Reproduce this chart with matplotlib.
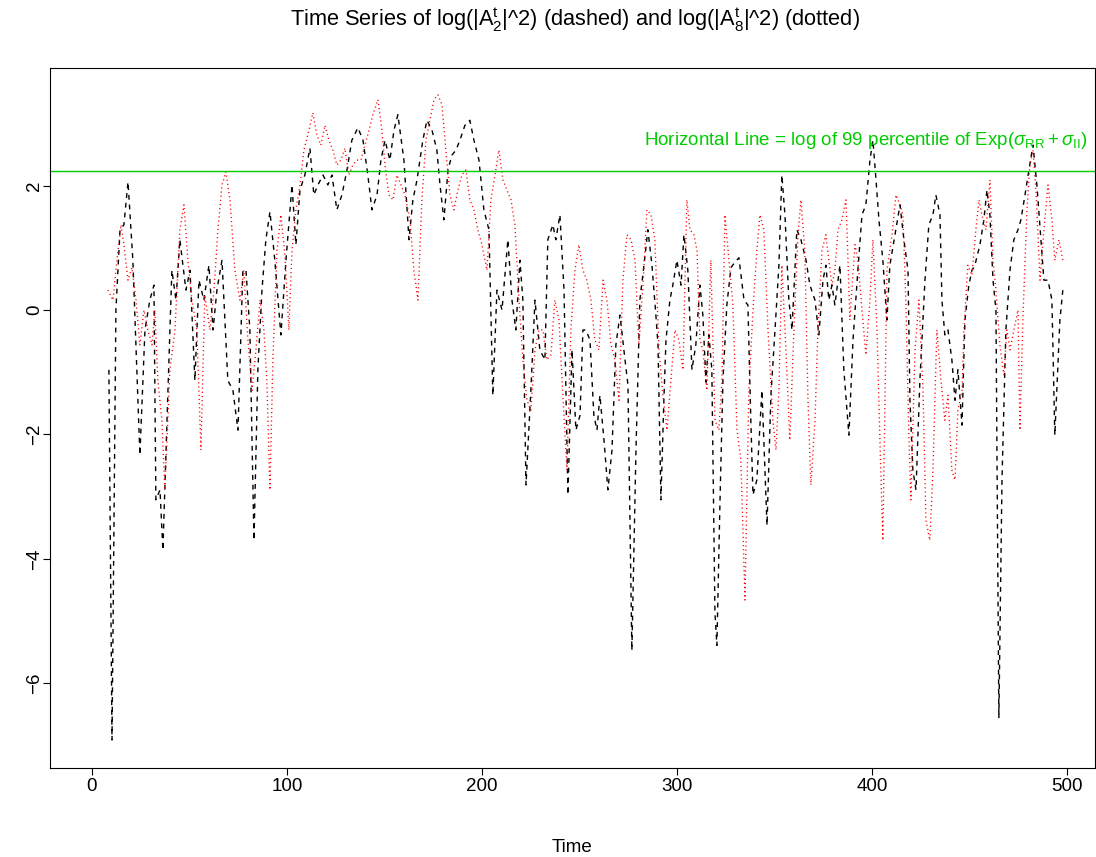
import matplotlib
matplotlib.use("Agg")
import matplotlib.pyplot as plt

plt.rcParams['font.family'] = ['Liberation Sans', 'DejaVu Sans']
plt.rcParams['mathtext.fontset'] = 'custom'
plt.rcParams['mathtext.rm'] = 'Liberation Sans'
plt.rcParams['mathtext.it'] = 'Liberation Sans:italic'
plt.rcParams['mathtext.sf'] = 'Liberation Sans'

# Dashed series: log(|A_2^t|^2)
t_a2 = [8.7, 10.3, 12.3, 14.4, 16.4, 18.5, 21.0, 24.6, 27.2, 29.7, 31.8, 32.8, 34.9, 36.4, 38.5,
        41.0, 43.1, 45.1, 48.2, 50.3, 52.8, 54.9, 57.4, 60.0, 62.1, 64.1, 66.7, 69.7, 72.3, 74.9,
        77.4, 79.0, 81.0, 83.1, 85.1, 87.2, 89.2, 91.3, 93.8, 96.9, 99.5, 102.6, 104.6, 106.7,
        109.2, 111.8, 113.8, 115.9, 118.5, 121.0, 123.1, 125.6, 128.2, 130.8, 133.3, 136.4, 139.0,
        141.5, 143.6, 146.2, 148.2, 150.3, 152.8, 154.9, 156.9, 160.0, 162.6, 164.6, 166.7, 169.7,
        171.8, 174.4, 176.9, 178.5, 180.5, 182.6, 184.6, 186.7, 188.7, 191.3, 193.8, 195.9, 198.5,
        201.0, 203.6, 205.6, 207.7, 210.3, 213.3, 215.4, 217.4, 219.5, 221.0, 222.6, 225.1, 227.2,
        229.7, 232.3, 233.8, 236.4, 237.9, 240.0, 242.1, 244.1, 246.2, 248.2, 250.3, 251.8, 253.3,
        255.4, 257.4, 259.0, 260.5, 262.6, 264.6, 266.7, 268.7, 270.8, 272.8, 274.9, 276.9, 279.0,
        281.0, 283.1, 285.1, 287.2, 289.2, 290.3, 291.8, 293.3, 294.4, 296.4, 297.9, 300.0, 302.1,
        303.6, 305.6, 307.7, 309.7, 311.8, 313.3, 314.9, 316.4, 317.9, 319.5, 320.5, 322.1, 323.6,
        325.6, 327.7, 329.7, 331.8, 334.4, 336.4, 337.9, 339.0, 341.0, 343.6, 346.2, 348.2, 350.3,
        352.3, 353.8, 355.4, 357.4, 359.0, 361.5, 363.6, 366.2, 368.2, 370.8, 372.8, 374.9, 376.4,
        377.9, 379.5, 381.0, 383.6, 385.6, 388.2, 390.3, 392.8, 394.9, 396.9, 399.0, 400.5, 402.1,
        403.6, 405.6, 407.7, 409.2, 411.8, 414.4, 416.4, 418.5, 419.5, 421.0, 422.6, 424.6, 427.2,
        429.2, 431.3, 432.8, 434.9, 435.9, 437.4, 439.0, 441.0, 442.6, 444.1, 446.2, 447.7, 449.7,
        451.3, 452.8, 455.4, 457.4, 459.0, 460.5, 462.1, 463.6, 465.1, 466.7, 468.7, 470.8, 472.8,
        474.9, 476.4, 478.5, 480.5, 482.6, 484.6, 486.7, 488.2, 490.3, 492.3, 493.8, 496.4, 497.9]
v_a2 = [-0.96, -6.91, 0.00, 1.29, 1.37, 2.06, 0.80, -2.33, -0.32, 0.16, 0.40, -3.05, -2.89, -3.86, -1.77,
        0.64, 0.16, 1.13, 0.32, 0.64, -1.13, 0.48, 0.16, 0.72, -0.32, 0.32, 0.80, -1.13, -1.29, -1.93,
        0.64, 0.64, -0.32, -3.70, -0.96, 0.32, 1.13, 1.58, 0.80, -0.40, 0.80, 2.01, 1.05, 1.93,
        2.17, 2.60, 1.85, 2.01, 2.17, 2.01, 2.17, 1.61, 1.85, 2.25, 2.73, 2.93, 2.73,
        2.17, 1.61, 1.85, 2.41, 2.73, 2.41, 2.89, 3.14, 2.41, 1.13, 1.77, 2.09, 2.73,
        3.05, 2.89, 2.57, 2.01, 1.45, 2.25, 2.49, 2.57, 2.73, 2.97, 3.05, 2.73, 2.41,
        1.61, 1.29, -1.37, 0.32, 0.00, 1.13, 0.16, -0.32, 0.80, 0.16, -2.81, -1.29, 0.16,
        -0.64, -0.80, 1.13, 1.37, 1.13, 1.53, 0.32, -2.97, -0.64, -1.93, -1.69, -0.32, -0.32,
        -0.48, -1.69, -1.93, -1.37, -2.09, -2.89, -2.25, -0.56, -0.08, -0.64, -1.21, -5.47, -2.25,
        0.16, 0.72, 1.29, 0.72, -0.08, -0.56, -3.05, -1.45, -0.48, 0.16, 0.40, 0.80, 0.40,
        1.21, 0.64, -0.96, -0.56, 0.40, -0.08, -1.16, -0.40, -0.96, -4.86, -5.39, -3.05, -1.13,
        0.08, 0.68, 0.77, 0.84, 0.16, 0.08, -1.77, -2.97, -2.73, -1.29, -3.46, -1.37, -0.32,
        0.72, 2.17, 1.53, 0.16, -0.32, 1.29, 1.13, 0.80, 0.40, 0.16, -0.40, 0.48, 0.72,
        0.16, 0.40, 0.08, 0.72, -0.96, -2.01, -0.48, 0.64, 1.53, 1.69, 2.41, 2.73, 2.09,
        1.45, 0.80, -0.16, 0.72, 1.21, 1.69, 1.13, 0.64, -1.45, -2.57, -2.89, -1.13, 0.48,
        1.37, 1.53, 1.85, 1.53, 0.16, -0.40, -0.32, -0.80, -1.45, -0.96, -1.85, -0.16, 0.40,
        0.64, 0.72, 1.05, 1.45, 1.93, 1.53, 0.48, 0.00, -6.56, -2.73, -0.32, 0.64, 1.13,
        1.29, 1.45, 1.85, 2.25, 2.65, 2.01, 1.13, 0.48, 0.48, 0.16, -2.01, -0.16, 0.32]

# Dotted series: log(|A_8^t|^2)
t_a8 = [8.2, 10.8, 12.8, 14.9, 16.4, 18.5, 20.5, 22.6, 24.6, 26.7, 28.7, 30.8, 32.3, 33.8, 35.9,
        37.4, 40.0, 42.6, 45.1, 47.2, 49.2, 51.3, 53.8, 55.9, 57.9, 60.5, 62.6, 64.6, 66.7, 68.7,
        70.8, 73.3, 75.9, 77.9, 80.0, 82.1, 84.1, 86.2, 88.2, 89.7, 91.3, 92.8, 94.9, 96.9, 99.0,
        101.0, 102.6, 104.6, 106.7, 108.7, 111.3, 113.3, 115.4, 117.4, 119.5, 121.5, 123.6, 125.6,
        127.7, 129.7, 131.8, 133.8, 135.9, 137.9, 140.0, 142.1, 144.1, 146.7, 148.7, 150.3, 152.3,
        154.4, 156.4, 158.5, 160.5, 163.1, 165.1, 167.2, 169.2, 171.3, 173.3, 175.4, 177.4, 179.5,
        181.5, 183.6, 185.6, 187.7, 189.7, 191.8, 193.8, 195.9, 197.9, 200.0, 202.6, 204.6, 206.7,
        208.7, 210.8, 212.8, 214.9, 216.9, 219.0, 221.0, 223.1, 225.1, 227.2, 229.2, 231.3, 233.3,
        235.4, 237.4, 239.5, 241.5, 243.6, 245.6, 247.7, 249.7, 251.8, 253.8, 255.9, 257.9, 260.0,
        262.1, 264.1, 266.2, 268.2, 270.3, 272.3, 274.4, 276.4, 278.5, 280.5, 282.6, 284.6, 286.7,
        288.7, 290.8, 292.8, 294.9, 296.9, 299.0, 301.0, 303.1, 305.1, 306.7, 308.7, 310.3, 311.8,
        313.3, 315.4, 317.4, 319.5, 321.5, 323.1, 324.6, 326.7, 328.7, 330.8, 332.8, 334.9, 336.9,
        339.0, 341.0, 342.6, 344.6, 346.7, 349.2, 350.8, 352.3, 353.8, 355.9, 357.9, 360.0, 362.1,
        363.6, 365.6, 367.2, 368.7, 370.8, 372.3, 374.4, 376.4, 377.9, 379.5, 381.0, 382.6, 384.6,
        386.7, 388.7, 391.3, 392.8, 394.9, 396.9, 399.0, 400.5, 402.6, 404.1, 405.6, 407.7, 410.3,
        412.3, 414.4, 415.9, 417.4, 419.0, 420.0, 422.1, 424.1, 426.2, 427.7, 429.7, 431.3, 433.3,
        435.4, 437.4, 439.0, 441.0, 442.6, 444.1, 446.2, 447.2, 449.2, 451.3, 453.3, 454.9, 456.4,
        458.5, 460.5, 462.1, 463.6, 465.6, 467.7, 469.2, 470.8, 472.8, 474.9, 475.9, 477.4, 479.5,
        481.0, 482.6, 484.1, 486.2, 488.2, 490.3, 492.3, 493.8, 495.9, 497.9]
v_a8 = [0.32, 0.16, 0.80, 1.37, 1.05, 0.48, 0.68, 0.16, -0.56, 0.00, -0.32, -0.56, 0.00, -1.13, -1.77,
        -2.89, -0.96, -0.32, 1.29, 1.69, 0.80, 0.16, -0.32, -2.25, 0.24, -0.32, 0.32, 1.29, 2.01, 2.22,
        1.77, 0.64, 0.16, 0.64, -0.48, -1.29, -0.64, 0.16, -0.32, -1.13, -2.89, -0.80, 0.96, 1.53, 0.88,
        -0.32, 0.96, 1.61, 2.01, 2.57, 2.89, 3.17, 2.81, 2.65, 2.97, 2.73, 2.57, 2.33,
        2.41, 2.60, 2.17, 2.33, 2.41, 2.41, 2.65, 2.89, 3.14, 3.38, 2.89, 2.33, 1.85,
        1.77, 2.17, 2.01, 1.85, 1.45, 0.64, 0.16, 1.77, 2.73, 3.05, 3.38, 3.46, 3.30,
        2.57, 1.85, 1.61, 1.93, 2.17, 2.25, 1.77, 1.61, 1.29, 1.05, 0.64, 1.77, 2.17,
        2.57, 2.09, 1.93, 1.77, 1.37, 0.16, -0.80, -1.45, -1.61, -0.64, -0.32, -0.32, -0.80,
        -0.72, 0.16, -0.16, -1.37, -2.57, -0.32, 0.64, 1.05, 0.64, 0.48, 0.16, -0.48, -0.64,
        0.48, 0.16, -0.56, -0.80, -1.45, 0.48, 1.21, 1.13, 0.80, -0.56, 0.40, 1.61, 1.53,
        1.13, -0.64, -1.37, -1.93, -1.13, -0.32, -0.48, -0.96, 1.77, 1.29, 1.21, 0.96, -0.48,
        -0.64, -1.29, 0.80, -1.77, -1.93, -1.13, 1.53, 0.80, 0.08, -1.93, -2.41, -4.66, -1.29,
        0.00, 0.96, 1.53, 1.29, -0.32, -1.77, -2.25, -1.29, 0.72, -0.64, -2.09, -0.32, 1.21,
        1.77, 0.96, -1.45, -2.81, -1.77, -0.32, 0.96, 1.21, 0.80, 0.40, 0.64, 1.29, 1.45,
        1.77, -0.16, 1.05, 0.80, 0.00, -0.72, 0.16, 1.13, -0.32, -2.09, -3.70, 0.64, 1.21,
        1.85, 1.69, 1.53, 0.16, -2.09, -3.05, -0.64, 0.16, -1.29, -3.38, -3.70, -2.57, -0.32,
        -1.13, -1.77, -1.37, -2.57, -2.73, -1.61, -1.29, -0.32, 0.72, 0.56, 1.29, 1.77, 1.53,
        1.29, 2.09, 0.80, 0.32, -0.56, -1.05, -0.32, -0.64, -0.32, 0.00, -1.93, -0.16, 1.61,
        2.33, 2.57, 1.93, 0.48, 1.29, 2.01, 1.45, 0.80, 1.13, 0.80]

threshold = 2.235
x_ticks = [0, 100, 200, 300, 400, 500]
y_ticks = [-6, -4, -2, 0, 2]

W, H = 1096, 857
fig = plt.figure(figsize=(W / 100, H / 100), dpi=100)
ax = fig.add_axes([50 / W, 1 - 768 / H, (1095 - 50) / W, (768 - 68) / H])

ax.plot(t_a2, v_a2, color='black', lw=1.0, linestyle=(0, (3.5, 3.5)))
ax.plot(t_a8, v_a8, color='red', lw=1.0, linestyle=(0, (0.8, 2.2)))
ax.axhline(threshold, color='#00CD00', lw=1.0)

ax.set_xlim(-21.5, 514.4)
ax.set_ylim(-7.36, 3.89)
ax.set_xticks(x_ticks)
ax.set_yticks(y_ticks)
ax.tick_params(direction='out', length=5, width=0.8, labelsize=13.5, colors='black')
ax.tick_params(axis='x', pad=2)
ax.tick_params(axis='y', pad=0)
for lbl in ax.get_yticklabels():
    lbl.set_rotation(90)
    lbl.set_va('center')
for s in ax.spines.values():
    s.set_linewidth(0.8)

ax.set_xlabel('Time', fontsize=13.5, labelpad=32)
ax.text(0.993, 2.73, r'Horizontal Line = log of 99 percentile of Exp($\sigma_{\mathrm{RR}} + \sigma_{\mathrm{II}}$)',
        transform=ax.get_yaxis_transform(), ha='right', va='center', color='#00CD00', fontsize=13.5)
fig.text(575 / W, 1 - 20 / H,
         r'Time Series of log(|$\mathrm{A_2^t}$|^2) (dashed) and log(|$\mathrm{A_8^t}$|^2) (dotted)',
         ha='center', va='center', fontsize=15.7)

fig.savefig('out.png', dpi=100)
